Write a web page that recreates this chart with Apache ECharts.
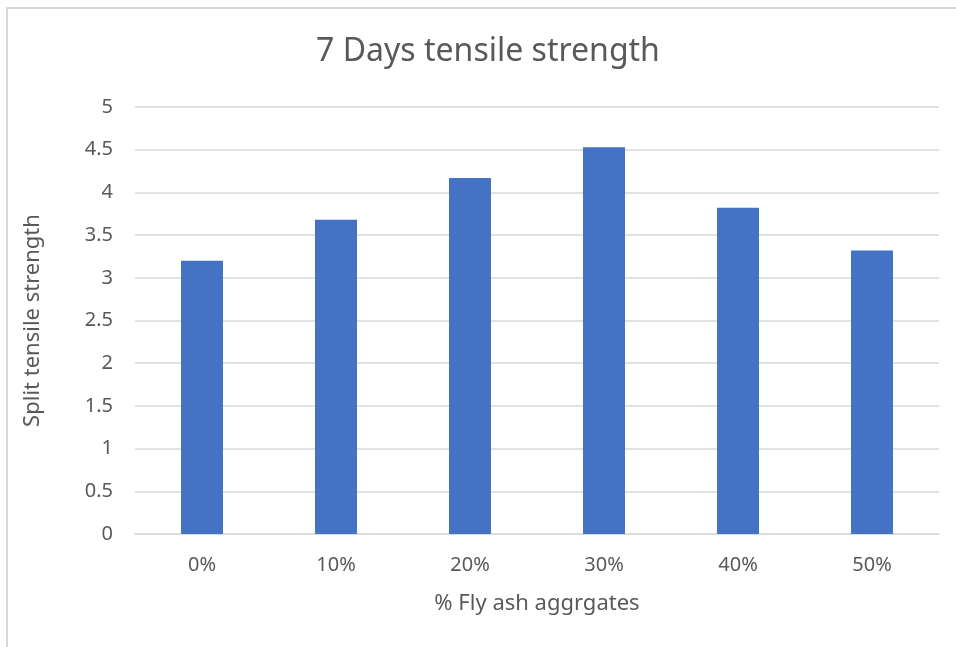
<!DOCTYPE html>
<html>
<head>
<meta charset="utf-8">
<title>7 Days tensile strength</title>
<script src="https://cdn.jsdelivr.net/npm/echarts@6/dist/echarts.min.js"></script>
<style>
  html, body { margin: 0; padding: 0; background: #fff; }
  #chart { width: 956px; height: 647px; }
</style>
</head>
<body>
<div id="chart"></div>
<script>
// data
var categories = ['0%', '10%', '20%', '30%', '40%', '50%'];
var strength = [3.2, 3.68, 4.17, 4.53, 3.82, 3.32];

var FONT = '"Noto Sans", "Open Sans", sans-serif';
var GREY = '#d9d9d9';
var TEXT = '#595959';

var myChart = echarts.init(document.getElementById('chart'));

var option = {
    animation: false,
    backgroundColor: '#fff',
    title: {
        text: '7 Days tensile strength',
        left: 483,
        top: 31,
        textAlign: 'center',
        textStyle: { fontFamily: FONT, fontSize: 32, fontWeight: 'normal', color: TEXT }
    },
    // chart area frame (only top and left edges show in the picture)
    graphic: [{
        type: 'rect',
        shape: { x: 7, y: 8, width: 1000, height: 700 },
        style: { fill: 'none', stroke: GREY, lineWidth: 2 },
        silent: true
    }],
    grid: { left: 135, right: 17, top: 107, bottom: 113 },
    xAxis: {
        type: 'category',
        data: categories,
        name: '% Fly ash aggrgates',
        nameLocation: 'middle',
        nameGap: 59,
        nameTextStyle: { fontFamily: FONT, fontSize: 22, color: TEXT },
        axisLine: { lineStyle: { color: GREY, width: 1.5 } },
        axisTick: { show: false },
        axisLabel: { fontFamily: FONT, fontSize: 20, color: TEXT, margin: 21 }
    },
    yAxis: {
        type: 'value',
        min: 0,
        max: 5,
        interval: 0.5,
        name: 'Split tensile strength',
        nameLocation: 'middle',
        nameGap: 91,
        nameTextStyle: { fontFamily: FONT, fontSize: 22, color: TEXT },
        axisLine: { show: false },
        axisTick: { show: false },
        axisLabel: { fontFamily: FONT, fontSize: 20, color: TEXT, margin: 22 },
        splitLine: { lineStyle: { color: GREY, width: 1.5 } }
    },
    series: [{
        type: 'bar',
        data: strength,
        barWidth: 42,
        itemStyle: { color: '#4472c4' }
    }]
};

myChart.setOption(option);
</script>
</body>
</html>
